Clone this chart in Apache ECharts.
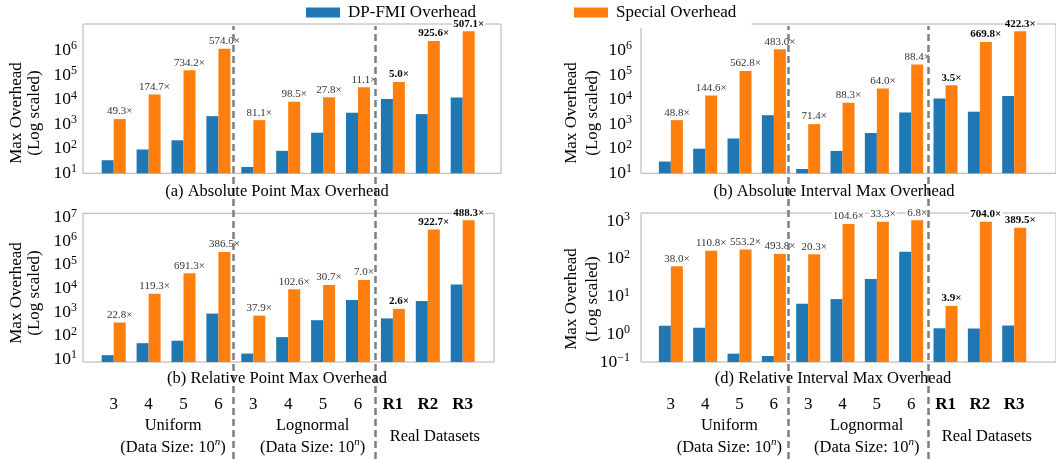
<!DOCTYPE html>
<html><head><meta charset="utf-8">
<script src="https://cdn.jsdelivr.net/npm/echarts@6.0.0/dist/echarts.min.js"></script>
<style>html,body{margin:0;padding:0;background:#fff}#c{width:1056px;height:459px}</style>
</head><body><div id="c"></div><script>
// ---------- data ----------
const categories = ['3','4','5','6','3','4','5','6','R1','R2','R3'];
const groupLabels = ['Uniform\n(Data Size: 10ⁿ)', 'Lognormal\n(Data Size: 10ⁿ)', 'Real Datasets'];
const groupCenters = [1.5, 5.5, 9];
const dividers = [3.43, 7.5];
const seriesNames = ['DP-FMI Overhead', 'Special Overhead'];
const panelTitles = ['(a) Absolute Point Max Overhead', '(b) Absolute Interval Max Overhead',
                     '(b) Relative Point Max Overhead', '(d) Relative Interval Max Overhead'];
const yAxisTitle = 'Max Overhead\n(Log scaled)';

// (a) Absolute Point
const absPointDP  = [34, 93, 220, 2100, 18, 82, 446, 2900, 10500, 2550, 12000];
const absPointSp  = [1600, 16000, 155000, 1170000, 1450, 8040, 12400, 31600, 52000, 2400000, 6000000];
const absPointRatio = [49.3, 174.7, 734.2, 574.0, 81.1, 98.5, 27.8, 11.1, 5.0, 925.6, 507.1];
// (b) Absolute Interval
const absIntDP  = [30, 100, 260, 2300, 15, 81, 435, 2970, 11000, 3200, 13800];
const absIntSp  = [1450, 14500, 145000, 1100000, 1000, 7300, 28000, 263000, 38000, 2180000, 5900000];
const absIntRatio = [48.8, 144.6, 562.8, 483.0, 71.4, 88.3, 64.0, 88.4, 3.5, 669.8, 422.3];
// (c) Relative Point
const relPointDP  = [14.5, 47, 60, 850, 17, 85, 445, 3200, 530, 2900, 14500];
const relPointSp  = [355, 5860, 43900, 352000, 700, 9300, 14100, 22900, 1350, 3200000, 7900000];
const relPointRatio = [22.8, 119.3, 691.3, 386.5, 37.9, 102.6, 30.7, 7.0, 2.6, 922.7, 488.3];
// (d) Relative Interval
const relIntDP  = [1.66, 1.47, 0.30, 0.26, 6.4, 8.5, 29, 155, 1.42, 1.40, 1.68];
const relIntSp  = [64, 164, 178, 134, 132, 850, 970, 1070, 5.6, 970, 670];
const relIntRatio = [38.0, 110.8, 553.2, 493.8, 20.3, 104.6, 33.3, 6.8, 3.9, 704.0, 389.5];

// y tick labels (exponents) and where they sit
const absTickExps = [1, 2, 3, 4, 5, 6];
const relPointTickExps = [1, 2, 3, 4, 5, 6, 7];
const relIntTickExps = [-1, 0, 1, 2, 3];
const relIntTickVals = [0.18, 1, 10, 100, 1000];

// ---------- layout ----------
const SERIF = '"Liberation Serif", "Times New Roman", serif';
const colL = {c0: 113.7, sp: 34.9};
const colR = {c0: 671, sp: 34.5};
const G = [
  {left: 83,  top: 24,    width: 418, height: 149.3, col: colL},
  {left: 641, top: 24,    width: 417, height: 149.3, col: colR},
  {left: 83,  top: 213.3, width: 411, height: 149,   col: colL},
  {left: 641, top: 213,   width: 417, height: 149,   col: colR},
  {left: 83,  top: 26,    width: 411, height: 433,   col: colL},
  {left: 641, top: 26,    width: 417, height: 433,   col: colR}
];
function xr(g){ return {min: (g.left - g.col.c0)/g.col.sp, max: (g.left + g.width - g.col.c0)/g.col.sp}; }

function decLabel(e){ return '{b|10}{s|' + (e < 0 ? '−' + Math.abs(e) : e) + '}'; }
const richY = {
  b: {fontFamily: SERIF, fontSize: 17.5, lineHeight: 20, color: '#000'},
  s: {fontFamily: SERIF, fontSize: 12, lineHeight: 12, verticalAlign: 'top', color: '#000'}
};

function yAxisLog(gi, min, max, vals, exps, margin){
  return {
    type: 'log', logBase: 10, gridIndex: gi, min: min, max: max, startValue: min,
    axisLine: {show: false}, axisTick: {show: false}, splitLine: {show: false},
    axisLabel: {
      customValues: vals, margin: margin,
      formatter: function(v){
        let best = 0, bd = 1e9;
        vals.forEach((t, i) => { const d = Math.abs(Math.log10(t) - Math.log10(v)); if (d < bd) { bd = d; best = i; } });
        return decLabel(exps[best]);
      },
      rich: richY
    }
  };
}

const grids = G.map((g, i) => ({
  left: g.left, top: g.top, width: g.width, height: g.height,
  show: i < 4, borderColor: '#b0b0b0', borderWidth: 1, backgroundColor: 'transparent'
}));

const hiddenX = (gi) => Object.assign({type: 'value', gridIndex: gi, show: false}, xr(G[gi]));
function catX(gi){
  return Object.assign({
    type: 'value', gridIndex: gi,
    axisLine: {show: false}, axisTick: {show: false}, splitLine: {show: false},
    axisLabel: {
      customValues: categories.map((c, i) => i), margin: 43, verticalAlign: 'middle',
      fontFamily: SERIF, fontSize: 17, color: '#000',
      formatter: function(v){ const c = categories[Math.round(v)]; return c.charAt(0) === 'R' ? '{b|' + c + '}' : c; },
      rich: {b: {fontFamily: SERIF, fontSize: 17, fontWeight: 'bold', color: '#000'}}
    }
  }, xr(G[gi]));
}
function groupX(gi){
  return Object.assign({
    type: 'value', gridIndex: gi, position: 'bottom',
    axisLine: {show: false}, axisTick: {show: false}, splitLine: {show: false},
    axisLabel: {
      customValues: groupCenters, margin: 75, verticalAlign: 'middle', align: 'center',
      fontFamily: SERIF, fontSize: 16.5, lineHeight: 22, color: '#000', padding: [0, 0, 0, 14],
      formatter: function(v){
        let idx = 0, bd = 1e9;
        groupCenters.forEach((c, i) => { if (Math.abs(c - v) < bd) { bd = Math.abs(c - v); idx = i; } });
        return groupLabels[idx].replace(/ⁿ/g, '{n|n}');
      },
      rich: {n: {fontFamily: SERIF, fontSize: 11, fontStyle: 'italic', lineHeight: 12, verticalAlign: 'top', color: '#000'}}
    }
  }, xr(G[gi]));
}

const xAxes = [hiddenX(0), hiddenX(1), catX(2), catX(3), hiddenX(4), hiddenX(5), groupX(2), groupX(3)];
const yAxes = [
  yAxisLog(0, 10, Math.pow(10, 7.07), absTickExps.map(e => Math.pow(10, e)), absTickExps, 6),
  yAxisLog(1, 10, Math.pow(10, 7.07), absTickExps.map(e => Math.pow(10, e)), absTickExps, 9),
  yAxisLog(2, 7.46, 1.55e7, relPointTickExps.map(e => Math.pow(10, e)), relPointTickExps, 6),
  yAxisLog(3, 0.18, 1660, relIntTickVals, relIntTickExps, 11),
  {type: 'value', gridIndex: 4, show: false, min: 0, max: 1},
  {type: 'value', gridIndex: 5, show: false, min: 0, max: 1}
];

const panels = [
  {dp: absPointDP, sp: absPointSp, r: absPointRatio},
  {dp: absIntDP, sp: absIntSp, r: absIntRatio},
  {dp: relPointDP, sp: relPointSp, r: relPointRatio},
  {dp: relIntDP, sp: relIntSp, r: relIntRatio}
];
const series = [];
panels.forEach((p, k) => {
  series.push({
    type: 'bar', name: seriesNames[0], xAxisIndex: k, yAxisIndex: k,
    barWidth: 12, barGap: '0%', clip: true, z: 3,
    itemStyle: {color: '#1f77b4'},
    data: p.dp.map((v, i) => [i, v])
  });
  series.push({
    type: 'bar', name: seriesNames[1], xAxisIndex: k, yAxisIndex: k,
    barWidth: 12, barGap: '0%', clip: true, z: 3,
    itemStyle: {color: '#ff7f0e'},
    label: {
      show: true, position: 'top', distance: 2,
      fontFamily: SERIF, fontSize: 11, color: '#333',
      backgroundColor: '#fff', padding: [1, 1, 0, 1],
      formatter: (q) => p.r[q.dataIndex].toFixed(1) + '×'
    },
    data: p.sp.map((v, i) => ({value: [i, v], label: categories[i].charAt(0) === 'R' ? {fontWeight: 'bold', color: '#000'} : {}}))
  });
});
[4, 5].forEach(gi => {
  series.push({
    type: 'scatter', xAxisIndex: gi, yAxisIndex: gi, data: [], symbolSize: 0, silent: true, z: 1,
    markLine: {
      silent: true, symbol: 'none', label: {show: false},
      lineStyle: {color: '#7f7f7f', width: 2.5, type: [7, 4]},
      data: dividers.map(d => ({xAxis: d}))
    }
  });
});

const textEl = (x, y, text, size, rot, lh) => ({
  type: 'text', x: x, y: y, rotation: rot || 0, z: 10,
  style: {text: text, fontFamily: SERIF, fontSize: size, lineHeight: lh || size + 2, fill: '#000',
          align: 'center', verticalAlign: 'middle'}
});

const option = {
  animation: false,
  backgroundColor: '#fff',
  grid: grids, xAxis: xAxes, yAxis: yAxes, series: series,
  legend: [
    {data: [seriesNames[0]], left: 298, top: 0, padding: [2, 15, 5, 8], itemWidth: 34, itemHeight: 10,
     icon: 'rect', selectedMode: false,
     textStyle: {fontFamily: SERIF, fontSize: 17, color: '#000', lineHeight: 18, padding: [3, 0, 0, 3]}},
    {data: [seriesNames[1]], left: 566, top: 0, padding: [2, 15, 5, 8], itemWidth: 34, itemHeight: 10,
     icon: 'rect', selectedMode: false, backgroundColor: '#fff',
     textStyle: {fontFamily: SERIF, fontSize: 17, color: '#000', lineHeight: 18, padding: [3, 0, 0, 3]}}
  ],
  graphic: [
    textEl(26, 113, yAxisTitle, 17, Math.PI / 2, 18),
    textEl(26, 293, yAxisTitle, 17, Math.PI / 2, 18),
    textEl(582, 113, yAxisTitle, 17, Math.PI / 2, 21),
    textEl(582, 299, yAxisTitle, 17, Math.PI / 2, 21),
    textEl(277, 192, panelTitles[0], 16.5),
    textEl(834, 192, panelTitles[1], 16.5),
    textEl(277, 379, panelTitles[2], 16.5),
    textEl(833, 379, panelTitles[3], 16.5)
  ]
};
const chart = echarts.init(document.getElementById('c'), null, {renderer: 'canvas'});
chart.setOption(option);
</script></body></html>
